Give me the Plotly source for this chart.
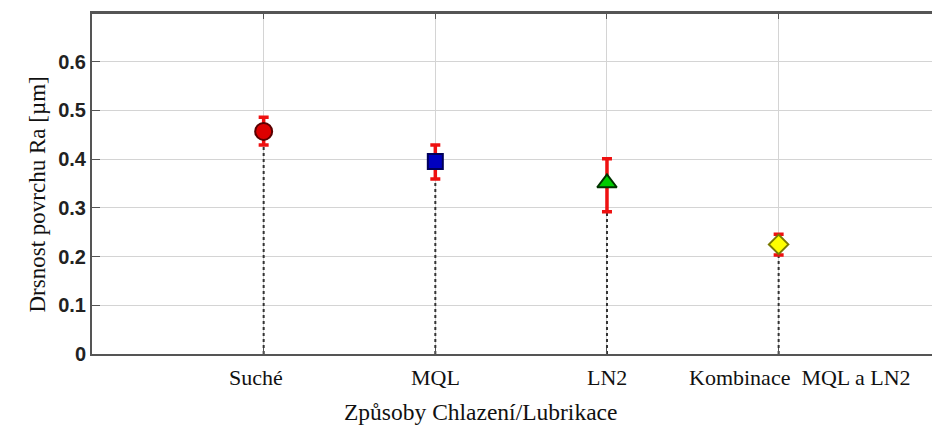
import plotly.graph_objects as go

categories = ["Suché", "MQL", "LN2", "Kombinace  MQL a LN2"]
ra_mean = [0.457, 0.395, 0.351, 0.225]
ra_upper = [0.486, 0.429, 0.401, 0.246]
ra_lower = [0.429, 0.359, 0.292, 0.203]
y_ticks = [0, 0.1, 0.2, 0.3, 0.4, 0.5, 0.6]
y_ticktext = ["0", "0.1", "0.2", "0.3", "0.4", "0.5", "0.6"]

marker_symbols = ["circle", "square", "triangle-up", "diamond"]
marker_fill = ["#dd0000", "#0000c0", "#00cc00", "#ffff00"]
marker_edge = ["#5a0000", "#00005a", "#003300", "#7a7a00"]
marker_sizes = [17, 15, 17, 15]

serif = "Liberation Serif, Times New Roman, serif"
sans = "Liberation Sans, Arial, sans-serif"

fig = go.Figure()

# dotted stems from zero to the mean
for c, m in zip(categories, ra_mean):
    fig.add_trace(go.Scatter(
        x=[c, c], y=[0, m], mode="lines",
        line=dict(color="#333333", width=2, dash="dot"),
        showlegend=False, hoverinfo="skip"))

# points with error bars
for i, c in enumerate(categories):
    fig.add_trace(go.Scatter(
        x=[c], y=[ra_mean[i]], mode="markers",
        marker=dict(symbol=marker_symbols[i], size=marker_sizes[i],
                    color=marker_fill[i],
                    line=dict(color=marker_edge[i], width=2)),
        error_y=dict(type="data", symmetric=False,
                     array=[ra_upper[i] - ra_mean[i]],
                     arrayminus=[ra_mean[i] - ra_lower[i]],
                     color="#ee1111", thickness=3.5, width=5),
        showlegend=False))

# category labels
label_shift = [-8, 0, 0, 21]
for c, s in zip(categories, label_shift):
    fig.add_annotation(x=c, y=0, xref="x", yref="paper", text=c,
                       showarrow=False, yanchor="top", yshift=-9, xshift=s,
                       font=dict(family=serif, size=22, color="#111111"))

fig.add_annotation(x=(480 - 92) / 848, y=0, xref="paper", yref="paper",
                   text="Způsoby Chlazení/Lubrikace", showarrow=False,
                   yanchor="top", yshift=-43,
                   font=dict(family=serif, size=23.5, color="#111111"))

fig.add_annotation(x=0, y=(354 - 195) / 341, xref="paper", yref="paper",
                   text="Drsnost povrchu Ra [µm]", showarrow=False,
                   textangle=-90, xshift=-70,
                   font=dict(family=serif, size=23, color="#111111"))

# top frame line
fig.add_shape(type="line", xref="paper", yref="paper", x0=0, x1=1, y0=1, y1=1,
              line=dict(color="#555555", width=2))

fig.update_layout(
    width=932, height=421,
    margin=dict(l=84, r=0, t=5, b=75),
    paper_bgcolor="white", plot_bgcolor="white",
    xaxis=dict(type="category", categoryorder="array", categoryarray=categories,
               range=[-1, 3.94], showticklabels=False,
               showline=True, linecolor="#555555", linewidth=2, mirror="ticks",
               ticks="inside", ticklen=6, tickcolor="#555555",
               showgrid=True, gridcolor="#d4d4d4", gridwidth=1, zeroline=False),
    yaxis=dict(range=[0, 0.7], tickvals=y_ticks, ticktext=y_ticktext,
               showline=True, linecolor="#555555", linewidth=2,
               ticks="inside", ticklen=8, tickcolor="#555555",
               tickfont=dict(family=sans, size=20, color="#222222",
                             weight="bold"),
               showgrid=True, gridcolor="#d4d4d4", gridwidth=1, zeroline=False),
)

fig.write_html("out.html")
